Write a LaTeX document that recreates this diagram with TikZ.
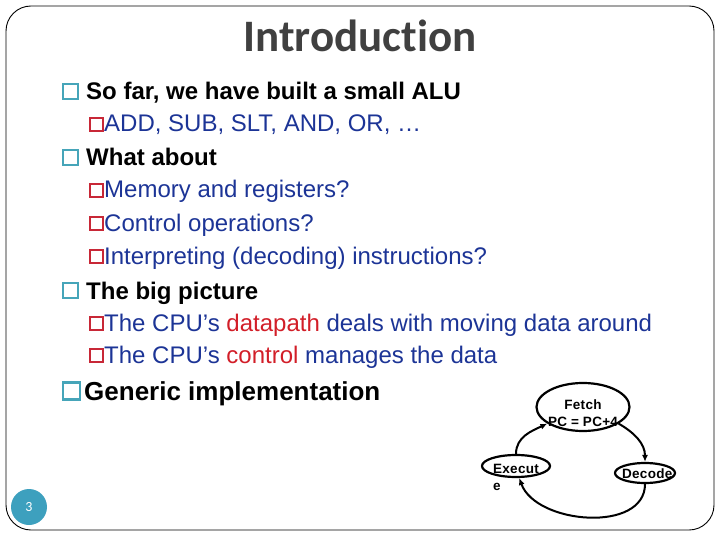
\documentclass[tikz,border=0pt]{standalone}
\usepackage{fontspec}
\setmainfont{Liberation Sans}
\newfontfamily\titlefont[Ligatures={NoCommon,NoDiscretionary,NoRare}]{Carlito}
\newfontfamily\diagfont[LetterSpace=2]{Liberation Sans}
\usetikzlibrary{shapes.geometric,arrows.meta}
\definecolor{slidegray}{RGB}{64,64,64}
\definecolor{bulteal}{RGB}{70,165,185}
\definecolor{bulred}{RGB}{200,40,55}
\definecolor{txtblue}{RGB}{28,52,150}
\definecolor{txtred}{RGB}{210,30,40}
\definecolor{numteal}{RGB}{61,160,190}
\newcommand{\hl}[1]{\textcolor{txtred}{#1}}
\tikzset{
  lvlone/.style={anchor=base west,inner sep=0pt,font=\fontsize{24}{28}\selectfont\bfseries},
  lvltwo/.style={anchor=base west,inner sep=0pt,text=txtblue,font=\fontsize{24}{28}\selectfont},
  bulone/.style={draw=bulteal,line width=2.2pt,minimum size=15pt,inner sep=0pt},
  bultwo/.style={draw=bulred,line width=2pt,minimum size=12.5pt,inner sep=0pt},
  stage/.style={ellipse,draw,line width=2.2pt,inner sep=0pt},
  stagetxt/.style={inner sep=0pt,font=\diagfont\fontsize{13.5}{17}\selectfont\bfseries},
  cycle/.style={-{Latex[length=7pt,width=6pt]},line width=2pt}
}
\begin{document}
\begin{tikzpicture}[x=1pt,y=1pt]
    \useasboundingbox (0,0) rectangle (720,-540);
    % slide frame
    \draw[line width=0.9pt,rounded corners=25pt] (6,-6) rectangle (714,-530);
    % title
    \node[anchor=base,inner sep=0pt,text=slidegray,font=\titlefont\fontsize{45}{50}\selectfont\bfseries] at (360,-52) (title) {Introduction};
    % first group
    \node[bulone] at (70.5,-91.5) (b1) {};
    \node[lvlone] at (86,-100) (sofar) {So far, we have built a small ALU};
    \node[bultwo] at (96.5,-124.5) (b2) {};
    \node[lvltwo] at (104,-132) (ops) {ADD, SUB, SLT, AND, OR, \dots};
    % second group
    \node[bulone] at (70.5,-157.5) (b3) {};
    \node[lvlone] at (86,-166) (what) {What about};
    \node[bultwo] at (96.5,-190.5) (b4) {};
    \node[lvltwo] at (104,-198) (mem) {Memory and registers?};
    \node[bultwo] at (96.5,-223.5) (b5) {};
    \node[lvltwo] at (104,-231) (ctrlops) {Control operations?};
    \node[bultwo] at (96.5,-256.5) (b6) {};
    \node[lvltwo] at (104,-264) (interp) {Interpreting (decoding) instructions?};
    % third group
    \node[bulone] at (70.5,-290.5) (b7) {};
    \node[lvlone] at (86,-299) (big) {The big picture};
    \node[bultwo] at (96.5,-323.5) (b8) {};
    \node[lvltwo] at (104,-331) (dpath) {The CPU’s \hl{datapath} deals with moving data around};
    \node[bultwo] at (96.5,-355.5) (b9) {};
    \node[lvltwo] at (104,-363) (ctrl) {The CPU’s \hl{control} manages the data};
    % generic implementation
    \node[bulone,minimum size=17pt] at (71.5,-391) (b10) {};
    \node[lvlone,font=\fontsize{26}{30}\selectfont\bfseries] at (84,-400) (generic) {Generic implementation};
    % fetch / decode / execute cycle
    \node[stage,minimum width=93pt,minimum height=48pt] at (583,-407) (fetch) {};
    \node[stage,minimum width=68pt,minimum height=22pt] at (516,-466) (exec) {};
    \node[stage,minimum width=60pt,minimum height=20pt] at (645,-473) (decode) {};
    \node[stagetxt,align=center,anchor=base] at (583,-426) (fetchtxt) {Fetch\\PC = PC+4};
    \node[stagetxt,align=left,anchor=base west] at (493,-490) (exectxt) {Execut\\e};
    \node[stagetxt,anchor=base west] at (622,-478) (decodetxt) {Decode};
    \draw[cycle] (exec.north) to[out=90,in=205] (fetch.205);
    \draw[cycle] (fetch.335) to[out=-30,in=90] (decode.north);
    \draw[cycle] (decode.south) to[out=-90,in=-70] (exec.-75);
    % slide number
    \node[circle,fill=numteal,minimum size=36pt,inner sep=0pt,text=white,font=\titlefont\fontsize{14}{16}\selectfont] at (29,-507) (pagenum) {3};
\end{tikzpicture}
\end{document}
